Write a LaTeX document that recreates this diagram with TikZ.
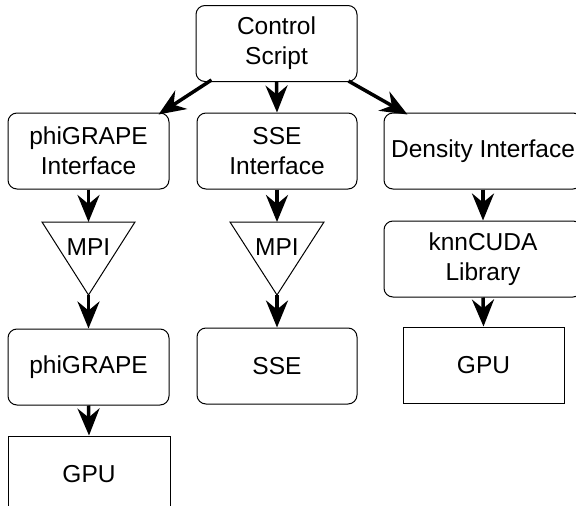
\documentclass[tikz,border=0pt]{standalone}
\usepackage{fontspec}
\setmainfont{Liberation Sans}
\usetikzlibrary{arrows.meta}
\tikzset{
  rbox/.style={draw, line width=1pt, rounded corners=9pt, minimum width=161pt, minimum height=76pt, inner sep=0pt, align=center, font=\fontsize{24.5}{30}\selectfont},
  sbox/.style={rbox, rounded corners=0pt},
  arr/.style={line width=3.5pt, -{Stealth[length=27pt, width=22pt, inset=9pt]}},
  tri/.style={draw, line width=1pt, line join=miter},
  lbl/.style={font=\fontsize{24.5}{30}\selectfont, inner sep=0pt}
}
\begin{document}
\begin{tikzpicture}[x=1pt, y=-1pt]
\useasboundingbox (0,0) rectangle (576,506);
\clip (0,0) rectangle (576,506);
% boxes
\node[rbox] (cs) at (276.5,43.5) {Control\\Script};
\node[rbox] (pgi) at (88.5,151) {phiGRAPE\\Interface};
\node[rbox, minimum width=160pt] (ssei) at (277,151) {SSE\\Interface};
\node[rbox, minimum width=198pt] (di) at (483,151) {Density Interface};
\node[rbox, minimum width=198pt] (knn) at (483,259) {knnCUDA\\Library};
\node[rbox] (pg) at (88.5,367) {phiGRAPE};
\node[rbox, minimum width=160pt] (sse) at (277,366) {SSE};
\node[sbox, minimum width=162pt] (gpuL) at (89,474) {GPU};
\node[sbox] (gpuR) at (483.5,365) {GPU};
% MPI triangles
\coordinate (m1top) at (88.5,222);
\coordinate (m1apex) at (88.5,295);
\draw[tri] (42,222) -- (135,222) -- (m1apex) -- cycle;
\node[lbl] (m1) at (88.5,247.5) {MPI};
\coordinate (m2top) at (277,222);
\coordinate (m2apex) at (277,295);
\draw[tri] (230,222) -- (324,222) -- (m2apex) -- cycle;
\node[lbl] (m2) at (277,247.5) {MPI};
% connectors
\draw[arr] ([shift={(16,-2)}]cs.south west) -- ([shift={(-11,2)}]pgi.north east);
\draw[arr] (cs.south) -- (ssei.north);
\draw[arr] ([shift={(-9,-1)}]cs.south east) -- ([shift={(24,2)}]di.north west);
\draw[arr] (pgi.south) -- (m1top);
\draw[arr] (m1apex) -- (pg.north);
\draw[arr] (pg.south) -- (gpuL.north);
\draw[arr] (ssei.south) -- (m2top);
\draw[arr] (m2apex) -- (sse.north);
\draw[arr] (di.south) -- (knn.north);
\draw[arr] (knn.south) -- (gpuR.north);
\end{tikzpicture}
\end{document}
